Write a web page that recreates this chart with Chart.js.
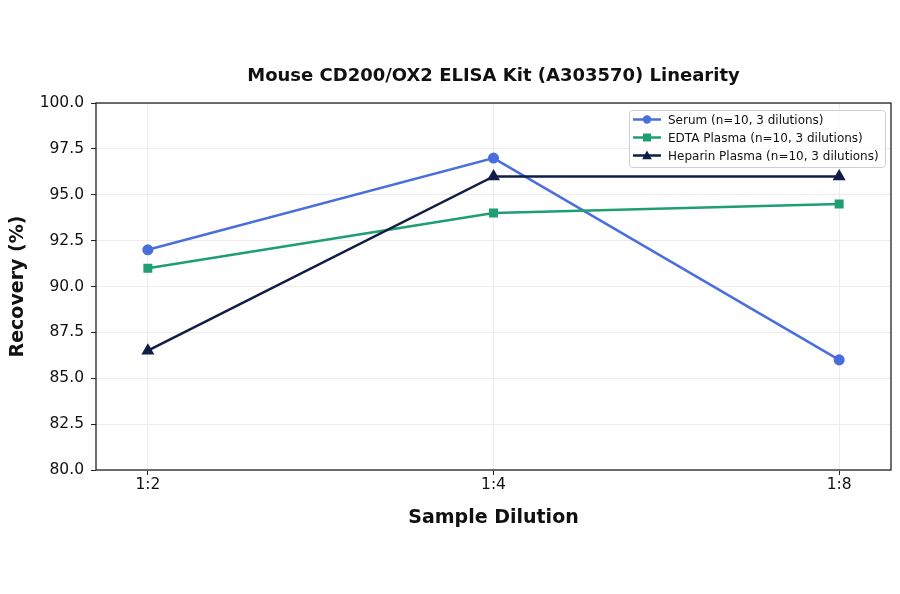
<!DOCTYPE html>
<html>
<head>
<meta charset="utf-8">
<script src="https://cdn.jsdelivr.net/npm/chart.js@4"></script>
<style>
  html, body { margin: 0; padding: 0; background: #fff; }
  #wrap { width: 900px; height: 594px; }
</style>
</head>
<body>
<div id="wrap"><canvas id="linChart"></canvas></div>
<script>
// Data for the chart
const dilutions = ["1:2", "1:4", "1:8"];
const serum = [92.0, 97.0, 86.0];
const edta = [91.0, 94.0, 94.5];
const heparin = [86.5, 96.0, 96.0];
const yTicks = [80.0, 82.5, 85.0, 87.5, 90.0, 92.5, 95.0, 97.5, 100.0];

const FONT = "'DejaVu Sans', sans-serif";
const TITLE = "Mouse CD200/OX2 ELISA Kit (A303570) Linearity";

function toPoints(vals) {
    return vals.map(function (v, i) { return { x: i, y: v }; });
}

// frame + title over the plot area + legend inside it
const framePlugin = {
    id: "frame",
    afterDatasetsDraw: function (chart) {
        const ctx = chart.ctx;
        const a = chart.chartArea;
        ctx.save();
        ctx.strokeStyle = "#222";
        ctx.lineWidth = 1.3;
        ctx.strokeRect(a.left, a.top, a.right - a.left, a.bottom - a.top);

        // title centred over the axes
        ctx.fillStyle = "#111";
        ctx.font = "bold 18px " + FONT;
        ctx.textAlign = "center";
        ctx.textBaseline = "middle";
        ctx.fillText(TITLE, (a.left + a.right) / 2, 76);

        // legend box
        const x0 = 629, y0 = 110, w = 256, h = 57;
        ctx.fillStyle = "rgba(255,255,255,0.8)";
        ctx.strokeStyle = "#d0d0d0";
        ctx.lineWidth = 1;
        ctx.beginPath();
        ctx.roundRect(x0 + 0.5, y0 + 0.5, w, h, 3);
        ctx.fill();
        ctx.stroke();
        ctx.font = "12px " + FONT;
        ctx.textAlign = "left";
        chart.data.datasets.forEach(function (ds, i) {
            const yy = y0 + 9.5 + i * 18;
            ctx.strokeStyle = ds.borderColor;
            ctx.lineWidth = 2.5;
            ctx.beginPath();
            ctx.moveTo(x0 + 4, yy);
            ctx.lineTo(x0 + 32, yy);
            ctx.stroke();
            ctx.fillStyle = ds.borderColor;
            const cx = x0 + 18;
            ctx.beginPath();
            if (ds.pointStyle === "circle") {
                ctx.arc(cx, yy, 4.2, 0, Math.PI * 2);
            } else if (ds.pointStyle === "rect") {
                ctx.rect(cx - 4, yy - 4, 8, 8);
            } else {
                ctx.moveTo(cx, yy - 5);
                ctx.lineTo(cx + 4.8, yy + 3.8);
                ctx.lineTo(cx - 4.8, yy + 3.8);
                ctx.closePath();
            }
            ctx.fill();
            ctx.fillStyle = "#111";
            ctx.fillText(ds.label, x0 + 39, yy + 1);
        });
        ctx.restore();
    }
};

const data = {
    datasets: [
        {
            label: "Serum (n=10, 3 dilutions)",
            data: toPoints(serum),
            borderColor: "#4a6fdc",
            backgroundColor: "#4a6fdc",
            pointStyle: "circle",
            pointRadius: 4.3,
            borderWidth: 2.5,
            order: 3
        },
        {
            label: "EDTA Plasma (n=10, 3 dilutions)",
            data: toPoints(edta),
            borderColor: "#1f9e72",
            backgroundColor: "#1f9e72",
            pointStyle: "rect",
            pointRadius: 4.6,
            borderWidth: 2.5,
            order: 2
        },
        {
            label: "Heparin Plasma (n=10, 3 dilutions)",
            data: toPoints(heparin),
            borderColor: "#0f1d47",
            backgroundColor: "#0f1d47",
            pointStyle: "triangle",
            pointRadius: 5,
            borderWidth: 2.5,
            order: 1
        }
    ]
};

const config = {
    type: "line",
    data: data,
    plugins: [framePlugin],
    options: {
        responsive: false,
        animation: false,
        devicePixelRatio: 1,
        layout: { padding: { left: 0, right: 9, top: 103, bottom: 65 } },
        elements: { line: { tension: 0 }, point: { borderWidth: 0, hoverRadius: 5 } },
        plugins: {
            legend: { display: false },
            tooltip: { enabled: false },
            title: { display: false }
        },
        scales: {
            x: {
                type: "linear",
                min: -0.15,
                max: 2.15,
                afterBuildTicks: function (axis) {
                    axis.ticks = dilutions.map(function (d, i) { return { value: i }; });
                },
                afterFit: function (axis) { axis.height = 59; },
                ticks: {
                    callback: function (v) { return dilutions[v]; },
                    color: "#111",
                    font: { family: FONT, size: 15.5 },
                    padding: 1
                },
                grid: { color: "#ececec", lineWidth: 1, tickLength: 5, tickColor: "#222" },
                border: { display: false },
                title: {
                    display: true,
                    text: "Sample Dilution",
                    color: "#111",
                    font: { family: FONT, size: 19, weight: "bold" },
                    padding: { top: 0, bottom: 0 }
                }
            },
            y: {
                min: 80,
                max: 100,
                afterBuildTicks: function (axis) {
                    axis.ticks = yTicks.map(function (v) { return { value: v }; });
                },
                afterFit: function (axis) { axis.width = 96; },
                ticks: {
                    callback: function (v) { return v.toFixed(1); },
                    color: "#111",
                    font: { family: FONT, size: 15.5 },
                    padding: 7
                },
                grid: { color: "#ececec", lineWidth: 1, tickLength: 5, tickColor: "#222" },
                border: { display: false },
                title: {
                    display: true,
                    text: "Recovery (%)",
                    color: "#111",
                    font: { family: FONT, size: 19, weight: "bold" },
                    padding: { top: 7, bottom: 0 }
                }
            }
        }
    }
};

// Render the chart
const canvas = document.getElementById("linChart");
canvas.width = 900;
canvas.height = 594;
const linChart = new Chart(canvas, config);
</script>
</body>
</html>
